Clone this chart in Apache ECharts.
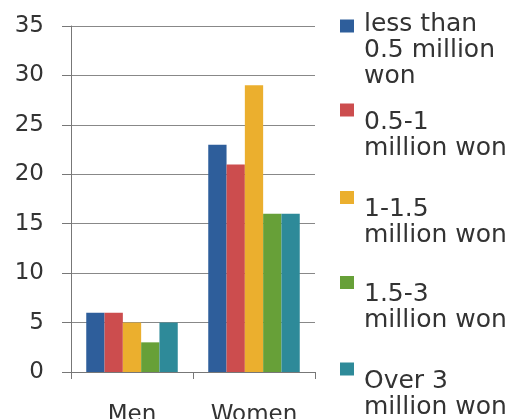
<!DOCTYPE html>
<html>
<head>
<meta charset="utf-8">
<script src="https://cdn.jsdelivr.net/npm/echarts@6/dist/echarts.min.js"></script>
<style>
html,body{margin:0;padding:0;background:#fff;}
#chart{width:518px;height:419px;}
</style>
</head>
<body>
<div id="chart"></div>
<script>
const categories = ['Men', 'Women'];
const seriesNames = ['less than\n0.5 million\nwon', '0.5-1\nmillion won', '1-1.5\nmillion won', '1.5-3\nmillion won', 'Over 3\nmillion won'];
const lessThan05 = [6, 23];
const from05to1 = [6, 21];
const from1to15 = [5, 29];
const from15to3 = [3, 16];
const over3 = [5, 16];
const yTicks = [0, 5, 10, 15, 20, 25, 30, 35];

const values = [lessThan05, from05to1, from1to15, from15to3, over3];
const colors = ['#2E5E9B', '#CC4D4E', '#EBAF2E', '#67A038', '#2E8A99'];
const FONT = 'DejaVu Sans';

const legendTops = [-18, 79, 166.5, 251.5, 338];
const spacer = [48, 50, 50, 50, 50];
const legends = seriesNames.map((n, i) => ({
  data: [n],
  left: 340,
  top: legendTops[i],
  padding: 0,
  orient: 'vertical',
  itemWidth: 14,
  itemHeight: 13,
  icon: 'rect',
  selectedMode: false,
  formatter: function (name) {
    return '{s| }\n' + name.split('\n').map(l => '{t|' + l + '}').join('\n');
  },
  textStyle: {
    fontFamily: FONT,
    fontSize: 25,
    color: '#333',
    rich: {
      s: {fontSize: 10, lineHeight: spacer[i]},
      t: {fontFamily: FONT, fontSize: 25, lineHeight: 26, color: '#333', padding: [0, 0, 0, 5]}
    }
  }
}));

const chart = echarts.init(document.getElementById('chart'), null, {renderer: 'canvas'});
chart.setOption({
  animation: false,
  legend: legends,
  grid: {left: 71, right: 203, top: 26, bottom: 47, containLabel: false, outerBoundsMode: 'none'},
  xAxis: {
    type: 'category',
    data: categories,
    axisLine: {show: true, lineStyle: {color: '#777', width: 1}},
    axisTick: {show: true, length: 7, lineStyle: {color: '#777'}},
    axisLabel: {fontFamily: FONT, fontSize: 23, color: '#333', margin: 32}
  },
  yAxis: {
    type: 'value',
    min: yTicks[0],
    max: yTicks[yTicks.length - 1],
    interval: yTicks[1] - yTicks[0],
    axisLine: {show: true, lineStyle: {color: '#777', width: 1}},
    axisTick: {show: true, length: 9, lineStyle: {color: '#777'}},
    splitLine: {show: true, lineStyle: {color: '#888', width: 1}},
    axisLabel: {fontFamily: FONT, fontSize: 23, color: '#333', margin: 27}
  },
  series: seriesNames.map((n, i) => ({
    name: n,
    type: 'bar',
    data: values[i],
    barGap: '0%',
    barCategoryGap: '25%',
    itemStyle: {color: colors[i]}
  }))
});
</script>
</body>
</html>
